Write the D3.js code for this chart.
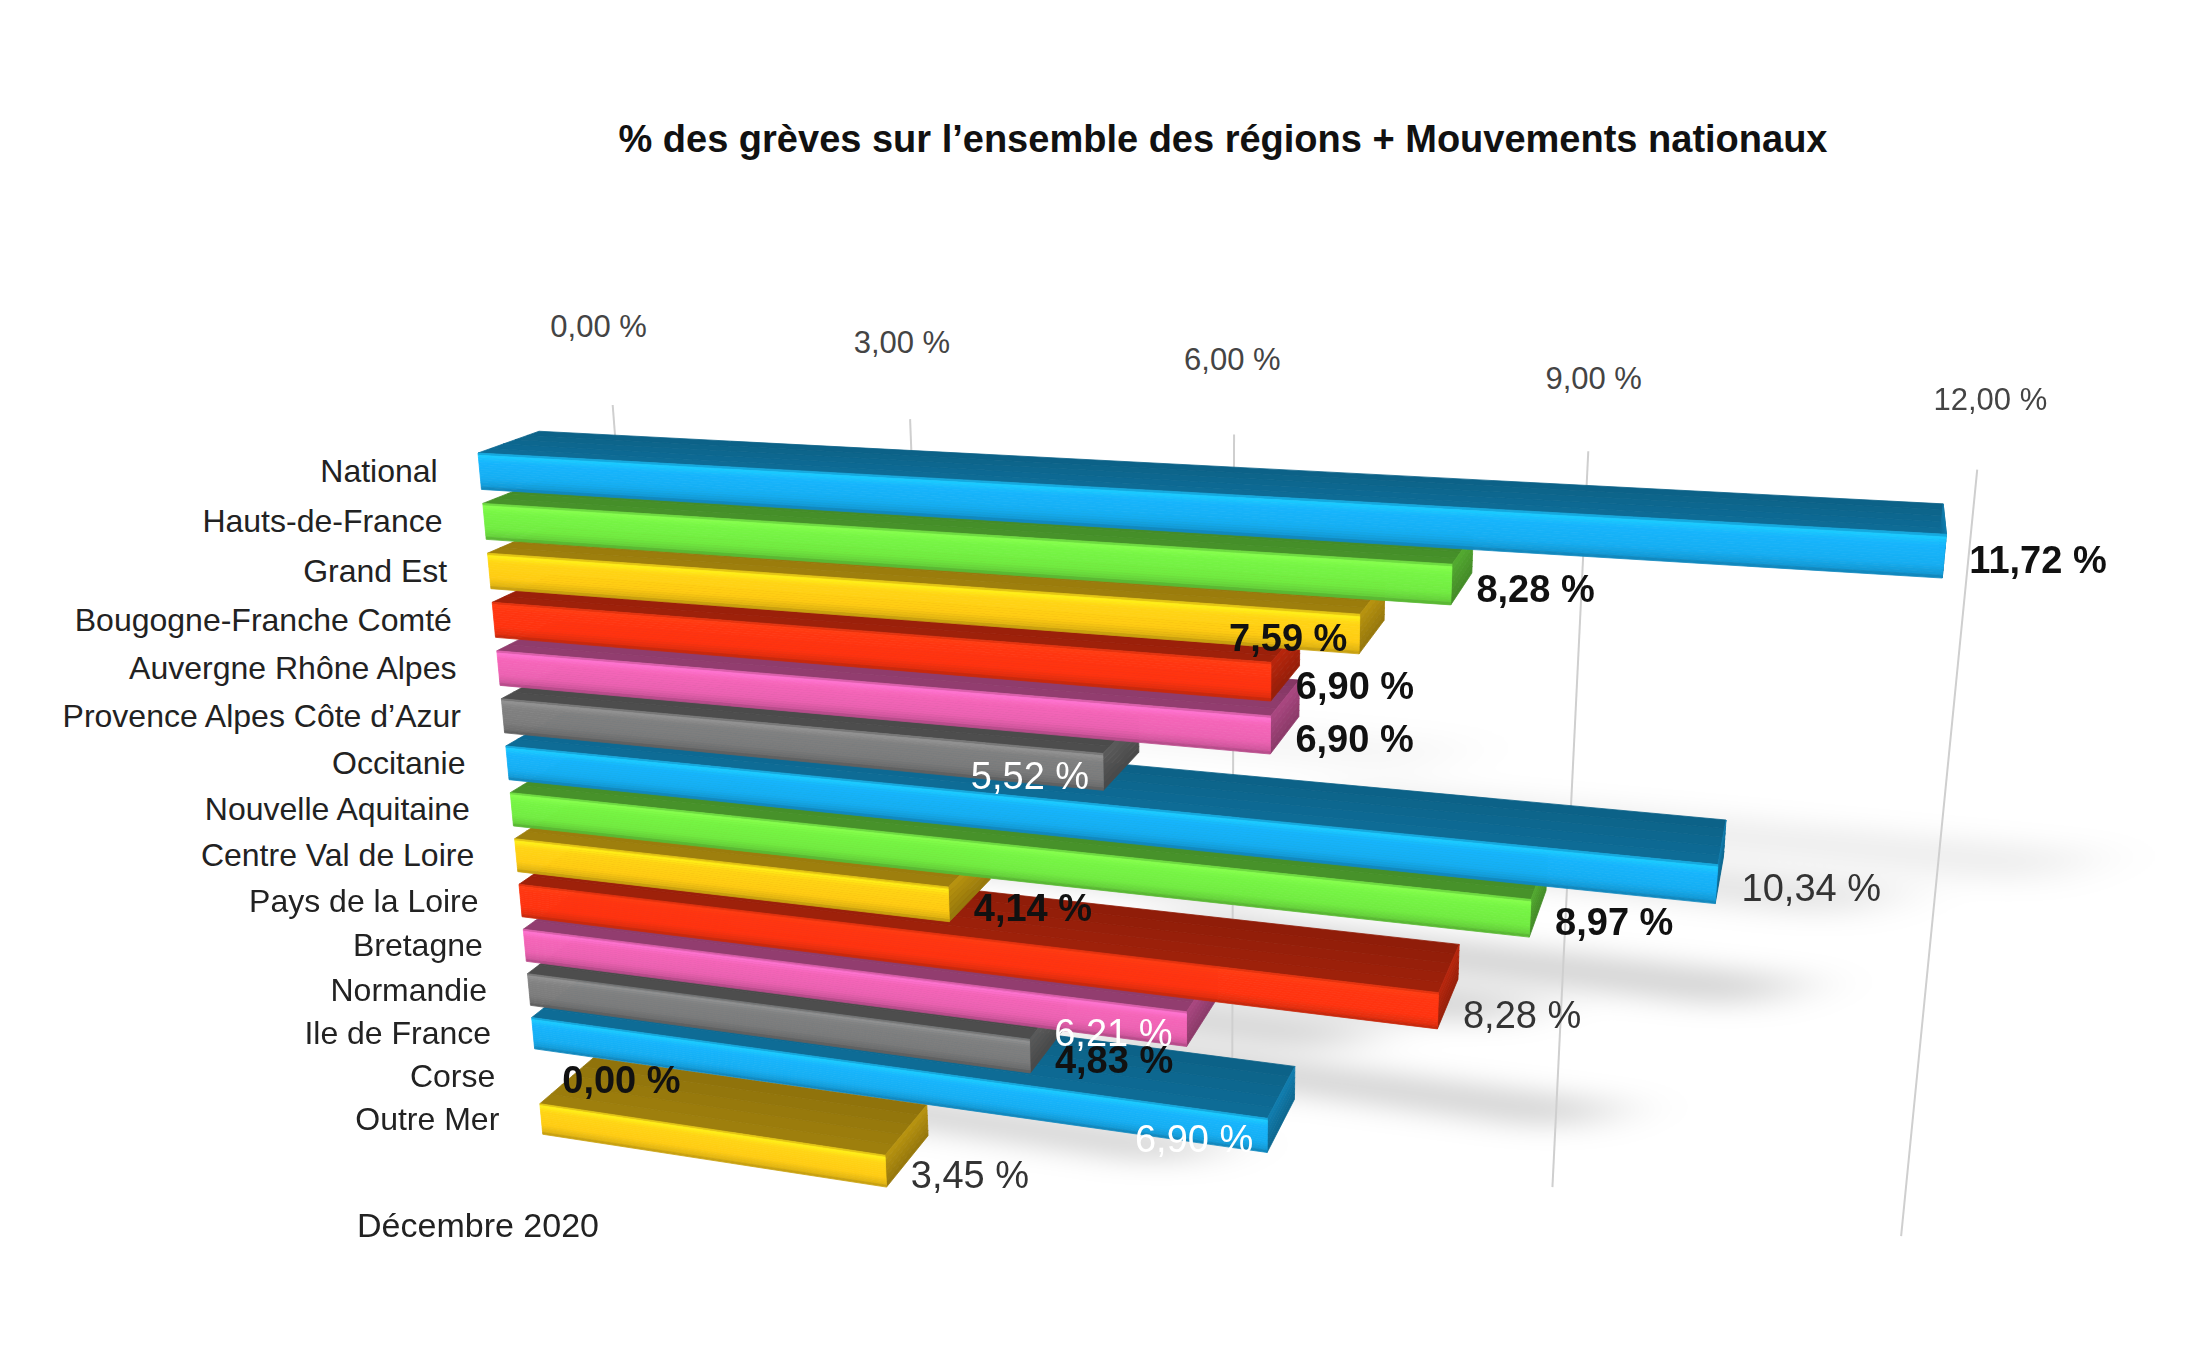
<!DOCTYPE html>
<html>
<head>
<meta charset="utf-8">
<script src="https://cdn.jsdelivr.net/npm/d3@7"></script>
<style>
  html, body { margin: 0; padding: 0; background: #ffffff; }
  svg { display: block; }
  text { font-family: "Liberation Sans", Arial, Helvetica, sans-serif; }
</style>
</head>
<body>
<svg id="chart" width="2200" height="1367"></svg>
<script>
// ---------------- DATA ----------------
const title = "% des grèves sur l’ensemble des régions + Mouvements nationaux";
const seriesName = "Décembre 2020";
const categories = [
  "National", "Hauts-de-France", "Grand Est", "Bougogne-Franche Comté",
  "Auvergne Rhône Alpes", "Provence Alpes Côte d’Azur", "Occitanie",
  "Nouvelle Aquitaine", "Centre Val de Loire", "Pays de la Loire",
  "Bretagne", "Normandie", "Ile de France", "Corse", "Outre Mer"
];
const values = [11.72, 8.28, 7.59, 6.90, 6.90, 5.52, 10.34, 8.97, 4.14, 8.28, 6.21, 4.83, 6.90, 0.00, 3.45];
const tickValues = [0, 3, 6, 9, 12];
const tickLabels = ["0,00 %", "3,00 %", "6,00 %", "9,00 %", "12,00 %"];

// ---------------- STYLE ----------------
const palette = ["#16aef2", "#72ec42", "#ffcc14", "#ff3410", "#ec62b2", "#7c7c7c"];
// label placement / look per bar (as in the original rendering)
const labelStyles = ["outBold", "outBold", "inBold", "outBold", "outBold", "inWhite", "outRegular",
  "outBold", "outBold", "outRegular", "inWhite", "outBold", "inWhite", "outBold", "outRegular"];

const W = 2200, H = 1367;
// perspective camera, defined by two vanishing points (screen px)
const CAM = { cx: 1100, cy: 683.5, vpX: [-6349, 75], vpY: [1212, 8176], origin: [478, 453], dist: 1000 };
// 3D scene sizes (world units)
const SCENE = { valueLen: 610.8, pitch: 22.2, barH: 16, depth: 50, gridDepth: 116.7, gridTop: 0, gridBottom: 345 };

// ---------------- CAMERA ----------------
const P = [CAM.cx, CAM.cy];
const ax = [CAM.vpX[0] - P[0], CAM.vpX[1] - P[1]];
const ay = [CAM.vpY[0] - P[0], CAM.vpY[1] - P[1]];
const f = Math.sqrt(-(ax[0] * ay[0] + ax[1] * ay[1]));
const norm3 = v => { const l = Math.hypot(v[0], v[1], v[2]); return v.map(c => c / l); };
const ex = norm3([-ax[0], -ax[1], -f]);
let ed = norm3([ay[0], ay[1], f]);
const dd = ed[0] * ex[0] + ed[1] * ex[1] + ed[2] * ex[2];
ed = norm3([ed[0] - dd * ex[0], ed[1] - dd * ex[1], ed[2] - dd * ex[2]]);
const eb = [ex[1] * ed[2] - ex[2] * ed[1], ex[2] * ed[0] - ex[0] * ed[2], ex[0] * ed[1] - ex[1] * ed[0]];
const T = [(CAM.origin[0] - P[0]) / f * CAM.dist, (CAM.origin[1] - P[1]) / f * CAM.dist, CAM.dist];
function project(X, Y, Z) {
  const c = [0, 1, 2].map(i => T[i] + X * ex[i] + Y * ed[i] + Z * eb[i]);
  return [P[0] + f * c[0] / c[2], P[1] + f * c[1] / c[2]];
}
const quadPath = pts => "M" + pts.map(p => project(p[0], p[1], p[2]).map(v => v.toFixed(2)).join(",")).join("L") + "Z";

// ---------------- SCALES ----------------
const x = d3.scaleLinear().domain([0, 12]).range([0, SCENE.valueLen]);
const gap = 1 - SCENE.barH / SCENE.pitch;
const y = d3.scaleBand().domain(categories)
  .range([0, SCENE.pitch * (categories.length - gap)])
  .paddingInner(gap).paddingOuter(0);
const color = d3.scaleOrdinal().domain(categories).range(palette);
// shadow strength grows toward the lower rows
const shadowOpacity = d3.scaleLinear().domain([4, 9]).range([0, 0.17]).clamp(true);

const locale = d3.formatLocale({ decimal: ",", thousands: " ", grouping: [3], currency: ["", " €"] });
const fmt = v => locale.format(".2f")(v) + " %";

const rows = categories.map((c, i) => ({ cat: c, value: values[i], style: labelStyles[i], i }));

const svg = d3.select("#chart");
const defs = svg.append("defs");
defs.append("filter").attr("id", "soft").attr("x", "-50%").attr("y", "-100%").attr("width", "200%").attr("height", "300%")
  .append("feGaussianBlur").attr("stdDeviation", "40 12");
svg.append("rect").attr("width", W).attr("height", H).attr("fill", "#ffffff");

// ---------------- TITLE ----------------
svg.append("text")
  .attr("x", 1223).attr("y", 152)
  .attr("text-anchor", "middle")
  .attr("font-size", 38).attr("font-weight", "bold").attr("fill", "#111")
  .text(title);

// ---------------- SOFT SHADOWS (behind the bars) ----------------
svg.append("g").attr("class", "shadows").attr("filter", "url(#soft)")
  .selectAll("path").data(rows.filter(d => d.value > 0)).join("path")
  .attr("d", d => {
    const y0 = y(d.cat) + y.bandwidth() * 0.1, y1 = y(d.cat) + y.bandwidth() * 1.1, Z = SCENE.depth + 8;
    return quadPath([[x(d.value) * 0.7, y0, Z], [x(d.value) + x(2.8), y0, Z], [x(d.value) + x(2.3), y1, Z], [x(d.value) * 0.7, y1, Z]]);
  })
  .attr("fill", "#000").attr("opacity", d => shadowOpacity(d.i));

// ---------------- GRIDLINES & TICKS ----------------
const grid = svg.append("g").attr("class", "grid");
grid.selectAll("path").data(tickValues).join("path")
  .attr("d", t => {
    const a = project(x(t), SCENE.gridTop, SCENE.gridDepth);
    const b = project(x(t), SCENE.gridBottom, SCENE.gridDepth);
    return `M${a[0]},${a[1]}L${b[0]},${b[1]}`;
  })
  .attr("stroke", "#cfcfcf").attr("stroke-width", 2).attr("fill", "none");

grid.selectAll("text").data(tickValues).join("text")
  .attr("transform", t => {
    const p = project(x(t), SCENE.gridTop, SCENE.gridDepth);
    return `translate(${p[0] - 14 + 0.02 * (p[0] - 620)},${p[1] - 68 + 0.0062 * (p[0] - 620)})`;
  })
  .attr("text-anchor", "middle")
  .attr("font-size", 31).attr("fill", "#444")
  .text((t, i) => tickLabels[i]);

// ---------------- BARS ----------------
const NF = 16, NT = 5, NC = 6;
function frontColor(base) {
  const c = d3.color(base);
  return d3.scaleLinear()
    .domain([0, 0.08, 0.25, 0.7, 0.92, 1])
    .range([c.darker(0.5), c.brighter(0.45), c.brighter(0.12), c, c.darker(0.35), c.darker(0.9)].map(String))
    .interpolate(d3.interpolateRgb);
}

const barsG = svg.append("g").attr("class", "bars");
const barG = barsG.selectAll("g.bar")
  .data(rows.filter(d => d.value > 0).slice().reverse())
  .join("g").attr("class", "bar");

barG.each(function (d) {
  const g = d3.select(this);
  const base = d3.color(color(d.cat));
  const x1 = x(d.value), y0 = y(d.cat), bw = y.bandwidth(), D = SCENE.depth;
  // top face
  const topCol = d3.scaleLinear().domain([0, 1]).range([base.darker(1.3), base.darker(1.65)].map(String));
  g.selectAll("path.top").data(d3.range(NT)).join("path").attr("class", "top")
    .attr("d", j => quadPath([[0, y0, D * j / NT], [x1, y0, D * j / NT], [x1, y0, D * (j + 1) / NT], [0, y0, D * (j + 1) / NT]]))
    .attr("fill", j => topCol((j + 0.5) / NT)).attr("stroke", j => topCol((j + 0.5) / NT)).attr("stroke-width", 0.8);
  // end cap
  const capCol = d3.scaleLinear().domain([0, 1]).range([base.darker(0.9), base.darker(1.5)].map(String));
  g.selectAll("path.cap").data(d3.range(NC)).join("path").attr("class", "cap")
    .attr("d", j => quadPath([[x1, y0 + bw * j / NC, 0], [x1, y0 + bw * (j + 1) / NC, 0], [x1, y0 + bw * (j + 1) / NC, D], [x1, y0 + bw * j / NC, D]]))
    .attr("fill", j => capCol((j + 0.5) / NC)).attr("stroke", j => capCol((j + 0.5) / NC)).attr("stroke-width", 0.8);
  // front face
  const fc = frontColor(base);
  g.selectAll("path.front").data(d3.range(NF)).join("path").attr("class", "front")
    .attr("d", j => quadPath([[0, y0 + bw * j / NF, 0], [x1, y0 + bw * j / NF, 0], [x1, y0 + bw * (j + 1) / NF, 0], [0, y0 + bw * (j + 1) / NF, 0]]))
    .attr("fill", j => fc((j + 0.5) / NF)).attr("stroke", j => fc((j + 0.5) / NF)).attr("stroke-width", 0.8);
});

// ---------------- CATEGORY LABELS ----------------
svg.append("g").attr("class", "cats")
  .selectAll("text").data(rows).join("text")
  .attr("transform", d => { const p = project(0, y(d.cat) + y.bandwidth() / 2, 0); return `translate(${p[0] - 42},${p[1]})`; })
  .attr("text-anchor", "end").attr("dominant-baseline", "central")
  .attr("font-size", 32).attr("fill", "#222")
  .text(d => d.cat);

// ---------------- VALUE LABELS ----------------
const labelLook = {
  outBold: { dx: 25, anchor: "start", weight: "bold", fill: "#111" },
  outRegular: { dx: 25, anchor: "start", weight: "normal", fill: "#333" },
  inBold: { dx: -12, anchor: "end", weight: "bold", fill: "#111" },
  inWhite: { dx: -14, anchor: "end", weight: "normal", fill: "#ffffff" }
};
svg.append("g").attr("class", "values")
  .selectAll("text").data(rows).join("text")
  .attr("transform", d => { const p = project(x(d.value), y(d.cat) + y.bandwidth() / 2, 0); return `translate(${p[0] + labelLook[d.style].dx},${p[1] + 4})`; })
  .attr("text-anchor", d => labelLook[d.style].anchor)
  .attr("dominant-baseline", "central")
  .attr("font-size", 38)
  .attr("font-weight", d => labelLook[d.style].weight)
  .attr("fill", d => labelLook[d.style].fill)
  .text(d => fmt(d.value));

// ---------------- LEGEND ----------------
svg.append("text")
  .attr("x", 478).attr("y", 1237)
  .attr("text-anchor", "middle")
  .attr("font-size", 34).attr("fill", "#222")
  .text(seriesName);
</script>
</body>
</html>
